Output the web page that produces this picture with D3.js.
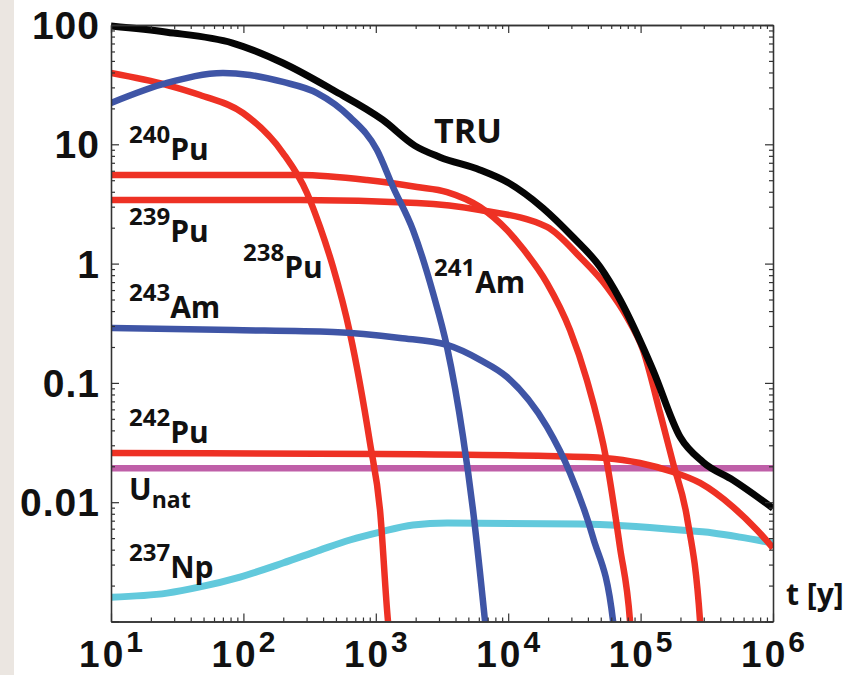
<!DOCTYPE html>
<html>
<head>
<meta charset="utf-8">
<script src="https://cdn.jsdelivr.net/npm/d3@7"></script>
<style>
  html, body { margin: 0; padding: 0; background: #fff; }
  svg { display: block; }
  text { font-family: "Open Sans", "DejaVu Sans", sans-serif; font-weight: 700; fill: #111; }
  text.tick-label { font-family: "Liberation Sans", Arial, sans-serif; font-weight: 700; }
</style>
</head>
<body>
<svg id="chart" width="854" height="675"></svg>
<script>
// ---------- data ----------
const xMajorTicks = [10, 100, 1000, 10000, 100000, 1000000];
const xMajorExponents = ["1", "2", "3", "4", "5", "6"];
const yMajorTicks = [0.01, 0.1, 1, 10, 100];
const yMajorLabels = ["0.01", "0.1", "1", "10", "100"];

// TRU (total transuranics)
const truT = [10, 26.5, 83, 199, 475, 1130, 1980, 3050, 6120, 9800, 18300, 30800, 49300, 69800, 104000, 124000, 199000, 296000, 499000, 1000000];
const truV = [98, 87, 70.6, 48, 28.5, 16, 9.7, 7.8, 6.1, 4.83, 2.92, 1.67, 0.94, 0.5, 0.2, 0.128, 0.0352, 0.0217, 0.0153, 0.0089];

// 238Pu
const pu238T = [10, 26.5, 47, 99.3, 199, 302, 379, 475, 638, 904, 1076, 1236, 1300];
const pu238V = [39.6, 31.4, 25.9, 18.3, 8.45, 3.91, 2.03, 0.938, 0.262, 0.0313, 0.0086, 0.00101, 0.0006];

// 241Am
const am241T = [10, 26.5, 70.1, 112, 199, 360, 638, 1021, 1349, 1910, 2704, 3451, 4560, 5420, 6680, 7000];
const am241V = [22.2, 32.7, 39.6, 38.1, 33.3, 26.9, 16.9, 8.95, 4.39, 1.91, 0.568, 0.2, 0.0352, 0.0086, 0.00101, 0.0006];

// 240Pu
const pu240T = [10, 268, 859, 2046, 3451, 6124, 9795, 12940, 19630, 29310, 39260, 55720, 69820, 83180, 86000];
const pu240V = [5.53, 5.53, 5.02, 4.39, 3.98, 2.98, 1.91, 1.33, 0.687, 0.277, 0.106, 0.0213, 0.0042, 0.00101, 0.0006];

// 239Pu
const pu239T = [10, 268, 2046, 6124, 19630, 34830, 55720, 78890, 104300, 140300, 175800, 223900, 281200, 290000];
const pu239V = [3.41, 3.41, 3.22, 2.81, 2.03, 1.135, 0.637, 0.356, 0.189, 0.056, 0.0213, 0.0075, 0.00101, 0.0006];

// 243Am
const am243T = [10, 83.4, 475, 1524, 3451, 6124, 9795, 19630, 29310, 43650, 61940, 65000];
const am243V = [0.288, 0.277, 0.267, 0.238, 0.208, 0.156, 0.112, 0.0427, 0.0176, 0.0051, 0.00101, 0.0006];

// 242Pu
const pu242T = [10, 1076, 19630, 55720, 98860, 175800, 281200, 498900, 756800, 1000000];
const pu242V = [0.0258, 0.0254, 0.0244, 0.0234, 0.0213, 0.0179, 0.0145, 0.00912, 0.00585, 0.00413];

// natural uranium reference level
const uNatT = [10, 1000000];
const uNatV = [0.0193, 0.0193];

// 237Np
const np237T = [10, 26.5, 47, 94.2, 199, 379, 638, 1076, 1910, 3451, 34830, 198600, 352400, 563600, 1000000];
const np237V = [0.0016, 0.00173, 0.00195, 0.00236, 0.00309, 0.00397, 0.00482, 0.00562, 0.00644, 0.0067, 0.00656, 0.00585, 0.00552, 0.0051, 0.00455];

// ---------- layout ----------
const svg = d3.select("#chart");
const L = 111, R = 773, T = 25, B = 621.5;

svg.append("rect").attr("x", 0).attr("y", 0).attr("width", 14).attr("height", 675).attr("fill", "#ebe6e1");

const x = d3.scaleLog().domain([10, 1e6]).range([L, R]);
const y = d3.scaleLog().domain([0.001, 100]).range([B, T]);

const RED = "#ee3124", BLUE = "#3f55a6", BLACK = "#050505", CYAN = "#62c9dc", PURPLE = "#bf5fa8";

const series = [
  { t: np237T, v: np237V, color: CYAN, w: 7 },
  { t: uNatT, v: uNatV, color: PURPLE, w: 6.5 },
  { t: pu242T, v: pu242V, color: RED, w: 6.5 },
  { t: pu239T, v: pu239V, color: RED, w: 6.5 },
  { t: pu240T, v: pu240V, color: RED, w: 6.5 },
  { t: pu238T, v: pu238V, color: RED, w: 6.5 },
  { t: am243T, v: am243V, color: BLUE, w: 6.5 },
  { t: am241T, v: am241V, color: BLUE, w: 6.5 },
  { t: truT, v: truV, color: BLACK, w: 7 }
];

svg.append("clipPath").attr("id", "plotclip")
  .append("rect").attr("x", L).attr("y", T - 6).attr("width", R - L).attr("height", B - T + 6);

const line = d3.line()
  .x(d => x(d[0]))
  .y(d => y(d[1]))
  .curve(d3.curveMonotoneX);

const plot = svg.append("g").attr("clip-path", "url(#plotclip)");
series.forEach(s => {
  const pts = s.t.map((t, i) => [t, s.v[i]]);
  plot.append("path")
    .attr("d", line(pts))
    .attr("fill", "none")
    .attr("stroke", s.color)
    .attr("stroke-width", s.w)
    .attr("stroke-linejoin", "round");
});

// ---------- axes (inward ticks on all four sides) ----------
const xAll = x.ticks();
const yAll = y.ticks();
const xMinor = xAll.filter(v => !xMajorTicks.some(m => Math.abs(m - v) / m < 1e-9));
const yMinor = yAll.filter(v => !yMajorTicks.concat([0.001]).some(m => Math.abs(m - v) / m < 1e-9));
const yMajAll = [0.001].concat(yMajorTicks);

function styleAxis(g) {
  g.selectAll("path.domain").attr("stroke", "#333").attr("stroke-width", 1.3);
  g.selectAll(".tick line").attr("stroke", "#333").attr("stroke-width", 1.2);
  g.selectAll(".tick text").remove();
}

const axes = svg.append("g");
axes.append("g").attr("transform", `translate(0,${B})`)
  .call(d3.axisBottom(x).tickValues(xMinor).tickSizeInner(-4).tickSizeOuter(0)).call(styleAxis);
axes.append("g").attr("transform", `translate(0,${B})`)
  .call(d3.axisBottom(x).tickValues(xMajorTicks).tickSizeInner(-8).tickSizeOuter(0)).call(styleAxis);
axes.append("g").attr("transform", `translate(0,${T})`)
  .call(d3.axisTop(x).tickValues(xMinor).tickSizeInner(-4).tickSizeOuter(0)).call(styleAxis);
axes.append("g").attr("transform", `translate(0,${T})`)
  .call(d3.axisTop(x).tickValues(xMajorTicks).tickSizeInner(-8).tickSizeOuter(0)).call(styleAxis);
axes.append("g").attr("transform", `translate(${L},0)`)
  .call(d3.axisLeft(y).tickValues(yMinor).tickSizeInner(-4).tickSizeOuter(0)).call(styleAxis);
axes.append("g").attr("transform", `translate(${L},0)`)
  .call(d3.axisLeft(y).tickValues(yMajAll).tickSizeInner(-8).tickSizeOuter(0)).call(styleAxis);
axes.append("g").attr("transform", `translate(${R},0)`)
  .call(d3.axisRight(y).tickValues(yMinor).tickSizeInner(-4).tickSizeOuter(0)).call(styleAxis);
axes.append("g").attr("transform", `translate(${R},0)`)
  .call(d3.axisRight(y).tickValues(yMajAll).tickSizeInner(-8).tickSizeOuter(0)).call(styleAxis);

// y tick labels
svg.append("g").selectAll("text").data(yMajorTicks).join("text")
  .attr("class", "tick-label")
  .attr("x", L - 11)
  .attr("y", d => y(d))
  .attr("dy", "0.36em")
  .attr("text-anchor", "end")
  .attr("letter-spacing", 1)
  .attr("font-size", 39)
  .text((d, i) => yMajorLabels[i]);

// x tick labels: 10^n
const xl = svg.append("g").selectAll("text").data(xMajorTicks).join("text")
  .attr("class", "tick-label")
  .attr("x", d => x(d))
  .attr("y", 667)
  .attr("text-anchor", "middle")
  .attr("font-size", 37);
xl.append("tspan").attr("letter-spacing", 3).text("10");
xl.append("tspan").attr("font-size", 30).attr("dy", -15).text((d, i) => xMajorExponents[i]);

// ---------- curve labels ----------
function isoLabel(px, py, sup, main, sub) {
  const t = svg.append("text").attr("x", px).attr("y", py).attr("font-size", 30);
  if (sup) {
    t.append("tspan").attr("font-size", 24).attr("dy", -17).text(sup);
    t.append("tspan").attr("dy", 17).text(main);
  } else {
    t.append("tspan").text(main);
  }
  if (sub) {
    t.append("tspan").attr("font-size", 23).attr("dy", 8).text(sub);
  }
  return t;
}
isoLabel(129, 160, "240", "Pu");
isoLabel(129, 242, "239", "Pu");
isoLabel(243, 278, "238", "Pu");
isoLabel(434, 293, "241", "Am");
isoLabel(129, 318, "243", "Am");
isoLabel(129, 443, "242", "Pu");
isoLabel(129, 500, null, "U", "nat");
isoLabel(129, 578, "237", "Np");
svg.append("text").attr("x", 434).attr("y", 143).attr("font-size", 34).text("TRU");
svg.append("text").attr("x", 786).attr("y", 605).attr("font-size", 30).text("t [y]");
</script>
</body>
</html>
